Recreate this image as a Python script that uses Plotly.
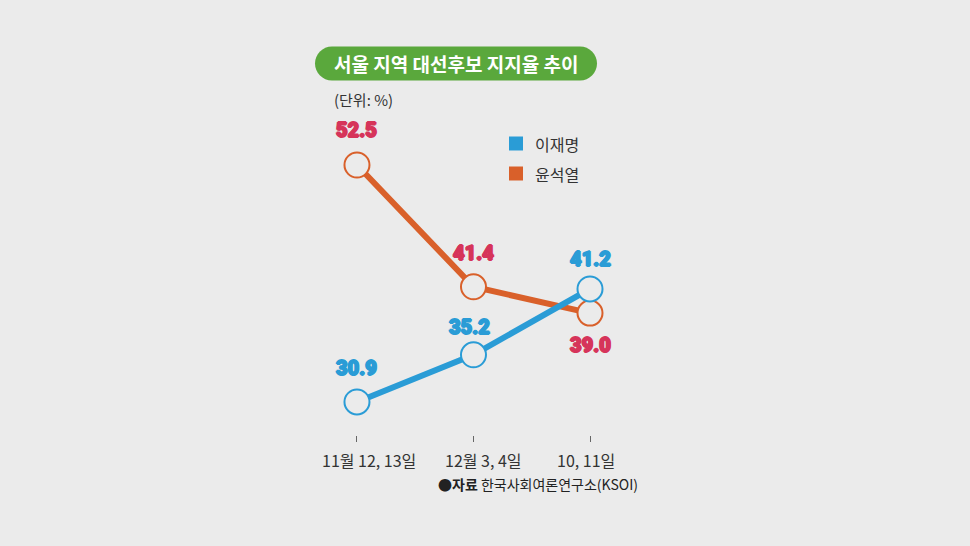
import plotly.graph_objects as go

categories = ["11월 12, 13일", "12월 3, 4일", "10, 11일"]
lee = [30.9, 35.2, 41.2]
yoon = [52.5, 41.4, 39.0]
series_names = ["이재명", "윤석열"]
title_text = "서울 지역 대선후보 지지율 추이"
unit_text = "(단위: %)"
source_bold = "●자료"
source_text = "한국사회여론연구소(KSOI)"

BG = "#ebebeb"
BLUE = "#2a9cd6"
ORANGE = "#d9602a"
RED = "#d6345a"
GREEN = "#5aa83c"
KR = "Noto Sans CJK KR"

# plot area in pixels
L, R, T, B = 300, 650, 100, 435
W, H = 970, 546
Y_TOP_PX, Y_TOP_V, PX_PER = 165, 52.5, 10.97


def px(xp):
    return (xp - L) / (R - L)


def py(yp):
    return (B - yp) / (B - T)


y_lo = Y_TOP_V - (B - Y_TOP_PX) / PX_PER
y_hi = Y_TOP_V + (Y_TOP_PX - T) / PX_PER

xs = list(range(len(categories)))

fig = go.Figure()
fig.add_trace(go.Scatter(
    x=xs, y=yoon, name=series_names[1], mode="lines+markers",
    line=dict(color=ORANGE, width=6),
    marker=dict(size=25, color=BG, line=dict(color=ORANGE, width=2)),
    showlegend=False, hoverinfo="skip"))
fig.add_trace(go.Scatter(
    x=xs, y=lee, name=series_names[0], mode="lines+markers",
    line=dict(color=BLUE, width=6),
    marker=dict(size=25, color=BG, line=dict(color=BLUE, width=2)),
    showlegend=False, hoverinfo="skip"))


def heavy(color):
    sh = f"0.9px 0 0 {color}, -0.9px 0 0 {color}, 0 0.6px 0 {color}, 0 -0.6px 0 {color}"
    return dict(family="Roboto", size=20, weight=900, color=color, shadow=sh)


# value labels
yoon_shift = [35, 34, -32]
lee_shift = [34, 28, 30]
xshift_lee = [0, -4, 0]
for i, v in enumerate(yoon):
    fig.add_annotation(x=xs[i], y=v, text=f"{v:.1f}", showarrow=False,
                       yshift=yoon_shift[i], font=heavy(RED))
for i, v in enumerate(lee):
    fig.add_annotation(x=xs[i], y=v, text=f"{v:.1f}", showarrow=False,
                       yshift=lee_shift[i], xshift=xshift_lee[i],
                       font=heavy(BLUE))

# category labels (offset like the reference)
cat_xshift = [12, 10, -4]
for i, c in enumerate(categories):
    fig.add_annotation(x=xs[i], xref="x", yref="paper", y=py(460), text=c,
                       xshift=cat_xshift[i], xanchor="center", yanchor="middle",
                       showarrow=False, font=dict(family=KR, size=16, color="#333333"))

# title pill
hw, hh = 141, 17
k = 0.5523 * hh
c = hw - hh
path = (f"M {-c},{-hh} L {c},{-hh} C {c+k},{-hh} {hw},{-k} {hw},0 "
        f"C {hw},{k} {c+k},{hh} {c},{hh} L {-c},{hh} "
        f"C {-c-k},{hh} {-hw},{k} {-hw},0 C {-hw},{-k} {-c-k},{-hh} {-c},{-hh} Z")
fig.add_shape(type="path", xref="paper", yref="paper", xsizemode="pixel", ysizemode="pixel",
              xanchor=px(456), yanchor=py(63.5), path=path,
              fillcolor=GREEN, line=dict(width=0))
fig.add_annotation(xref="paper", yref="paper", x=px(456), y=py(63.5), text=title_text,
                   xanchor="center", yanchor="middle",
                   showarrow=False, font=dict(family=KR, size=19, color="white", weight="bold"))
fig.add_annotation(xref="paper", yref="paper", x=px(332), y=py(99), xanchor="left",
                   yanchor="middle", text=unit_text, showarrow=False,
                   font=dict(family=KR, size=15, color="#333333"))

# legend
for j, (name, col, yc) in enumerate([(series_names[0], BLUE, 143.5), (series_names[1], ORANGE, 173.5)]):
    fig.add_shape(type="rect", xref="paper", yref="paper",
                  x0=px(509), x1=px(523), y0=py(yc - 7), y1=py(yc + 7),
                  fillcolor=col, line=dict(width=0))
    fig.add_annotation(xref="paper", yref="paper", x=px(533), y=py(yc), xanchor="left",
                       yanchor="middle", text=name, showarrow=False,
                       font=dict(family=KR, size=16, color="#333333"))

# source
fig.add_annotation(xref="paper", yref="paper", x=px(436), y=py(484), xanchor="left",
                   yanchor="middle",
                   text=f"<b>{source_bold}</b> {source_text}", showarrow=False,
                   font=dict(family=KR, size=14, color="#222222"))

fig.update_xaxes(range=[-0.489, 2.515], tickvals=xs, showticklabels=False,
                 showgrid=False, zeroline=False, showline=False,
                 ticks="outside", ticklen=6, tickwidth=1.2, tickcolor="#666666",
                 fixedrange=True)
fig.update_yaxes(range=[y_lo, y_hi], showgrid=False, zeroline=False, showline=False,
                 showticklabels=False, ticks="", fixedrange=True)

fig.update_layout(width=W, height=H, margin=dict(l=L, r=W - R, t=T, b=H - B),
                  paper_bgcolor=BG, plot_bgcolor=BG, showlegend=False)

fig.write_html("out.html", config={"displayModeBar": False},
               post_script="document.body.style.margin='0';document.body.style.background='#ebebeb';")
